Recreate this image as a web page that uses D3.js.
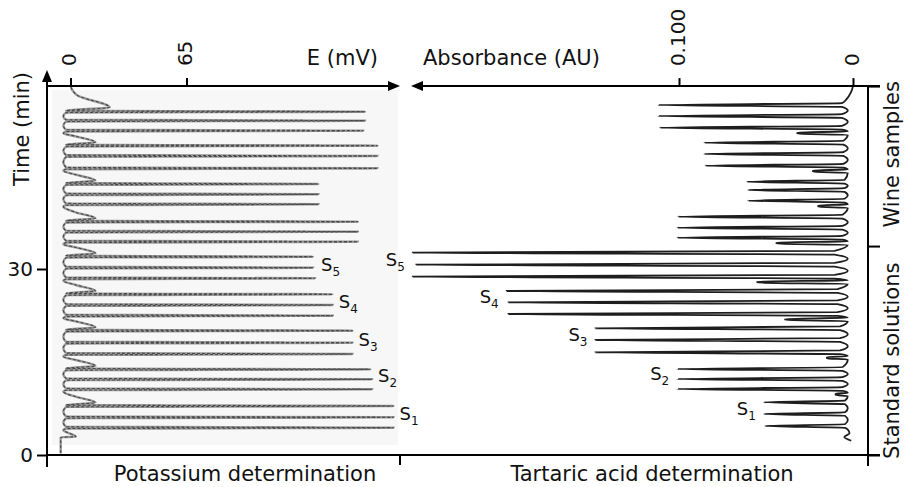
<!DOCTYPE html>
<html>
<head>
<meta charset="utf-8">
<script src="https://cdn.jsdelivr.net/npm/d3@7"></script>
<style>
  body { margin: 0; background: #fff; }
  svg { font-family: "DejaVu Sans", Verdana, sans-serif; }
</style>
</head>
<body>
<div id="canvas"></div>
<script>
"use strict"

/* groups of three injections, earliest first */
let groups = ["S1", "S2", "S3", "S4", "S5", "W1", "W2", "W3", "W4"];

/* potassium: peak times (min) and heights (mV) */
let kTimes = [4.40, 6.08, 7.90, 10.60, 12.21, 13.82, 16.29, 18.11, 20.05,
    22.47, 24.19, 25.92, 28.50, 30.21, 31.98, 34.40, 36.02, 37.63,
    40.44, 42.05, 43.71, 46.24, 48.23, 49.89, 52.31, 53.92, 55.37];
let kHeights = [181, 181, 181, 169, 169, 168, 158, 158, 158,
    147, 147, 147, 137, 136, 136, 161, 161, 161,
    139, 139, 139, 172, 172, 172, 164, 165, 165];

/* tartaric acid: peak times (min) and absorbance (AU) */
let taTimes = [4.68, 6.61, 8.50, 10.65, 12.26, 13.87, 16.56, 18.55, 20.44,
    22.74, 24.63, 26.45, 28.76, 30.69, 32.63, 35.05, 36.66, 38.44,
    41.02, 42.74, 44.08, 46.66, 48.55, 50.37, 52.79, 54.68, 56.45];
let taHeights = [0.0506, 0.0512, 0.0512, 0.101, 0.101, 0.101, 0.148, 0.148, 0.148,
    0.198, 0.198, 0.199, 0.253, 0.251, 0.253, 0.101, 0.101, 0.1005,
    0.0603, 0.0603, 0.061, 0.0850, 0.0856, 0.0856, 0.111, 0.112, 0.112];
/* small sample-change bump before each group (AU) */
let taShoulder = [0, 0.010, 0.015, 0.039, 0.055, 0.044, 0.020, 0.023, 0.032];

let eTicks = [0, 65];
let aTicks = [0.1, 0];
let timeTicks = [0, 30];
let sectionTicks = [0, 33.7, 59.5];

let drawing = d3.select("#canvas")
    .append("svg")
    .attr("width", 904)
    .attr("height", 487);

let yScale = d3.scaleLinear().domain([0, 60]).range([455, 83]);
let eScale = d3.scaleLinear().domain([0, 65]).range([70.5, 186.5]);
let aScale = d3.scaleLinear().domain([0, 0.1]).range([853, 679]);

let xLeft = 47, xRight = 868, xMid = 400, xFar = 880;
let yTop = yScale(59.5), yBottom = yScale(0);

/* faint paper tone behind the potassium recording */
drawing.append("rect")
    .attr("x", xLeft + 5).attr("y", yTop + 4)
    .attr("width", xMid - xLeft - 7).attr("height", yBottom - yTop - 14)
    .attr("fill", "#f7f7f7");

/* ---- potassium trace ---- */
let kPts = [[0.3, -5.5], [2.85, -5.5], [2.95, 3], [3.8, -3]];
kTimes.forEach(function (t, i) {
    let e = kHeights[i];
    let pos = i % 3;
    if (pos === 0) kPts.push([t - 0.4, -4]);
    kPts.push([t - 0.15, -2.5], [t, e], [t + 0.15, -2.5]);
    if (pos < 2) kPts.push([(t + kTimes[i + 1]) / 2, -4]);
    else if (i < kTimes.length - 1) kPts.push([t + 0.55, 14], [t + 1.5, 3]);
    else kPts.push([t + 0.7, 22], [t + 2.6, 4], [59.5, 0]);
});

let kLine = d3.line()
    .x(d => eScale(d[1]))
    .y(d => yScale(d[0]))
    .curve(d3.curveMonotoneY);

drawing.append("path")
    .attr("d", kLine(kPts))
    .attr("fill", "none")
    .attr("stroke", "#9a9a9a")
    .attr("stroke-width", 2.4);

drawing.append("path")
    .attr("d", kLine(kPts))
    .attr("fill", "none")
    .attr("stroke", "#4a4a4a")
    .attr("stroke-width", 1.1)
    .attr("stroke-dasharray", "3 2");

/* ---- tartaric acid trace ---- */
let base = 0.003;
let taPts = [[2.3, 0.001], [2.9, 0.005], [3.5, 0.002]];
taTimes.forEach(function (t, i) {
    let a = taHeights[i];
    let pos = i % 3;
    if (pos === 0) {
        let s = taShoulder[Math.floor(i / 3)];
        if (s > 0) taPts.push([t - 1.15, base], [t - 0.98, s], [t - 0.78, s]);
        taPts.push([t - 0.6, base]);
    }
    taPts.push([t - 0.3, base + 0.03 * a], [t, a], [t + 0.3, base + 0.03 * a]);
    if (pos < 2) taPts.push([(t + taTimes[i + 1]) / 2, base]);
    else if (i === taTimes.length - 1) taPts.push([57.3, 0.004], [58.6, 0.001], [59.5, 0]);
});

let taLine = d3.line()
    .x(d => aScale(d[1]))
    .y(d => yScale(d[0]))
    .curve(d3.curveMonotoneY);

drawing.append("path")
    .attr("d", taLine(taPts))
    .attr("fill", "none")
    .attr("stroke", "#1e1e1e")
    .attr("stroke-width", 1.8);

/* ---- frame and arrows ---- */
function seg(x1, y1, x2, y2) {
    drawing.append("line")
        .attr("x1", x1).attr("y1", y1).attr("x2", x2).attr("y2", y2)
        .attr("stroke", "black").attr("stroke-width", 2);
}
function arrow(points) {
    drawing.append("polygon").attr("points", points).attr("fill", "black");
}

seg(xLeft, yBottom + 12, xLeft, 80);
arrow(`${xLeft},70 ${xLeft - 5},82 ${xLeft + 5},82`);
seg(xLeft, yBottom, xFar, yBottom);
seg(xMid, yBottom, xMid, yBottom + 10);
seg(xLeft, yTop, xMid - 10, yTop);
arrow(`${xMid},${yTop} ${xMid - 12},${yTop - 5} ${xMid - 12},${yTop + 5}`);
seg(xMid + 21, yTop, xFar, yTop);
arrow(`${xMid + 11},${yTop} ${xMid + 23},${yTop - 5} ${xMid + 23},${yTop + 5}`);
seg(xRight, yTop, xRight, yBottom + 11);

/* ---- axes ---- */
function styleAxis(g) {
    g.select(".domain").remove();
    g.attr("font-family", null).attr("font-size", 20);
    g.selectAll(".tick line").attr("stroke", "black").attr("stroke-width", 2);
    g.selectAll(".tick text").attr("fill", "#111");
}

let eAxis = drawing.append("g")
    .attr("transform", `translate(0,${yTop})`)
    .call(d3.axisTop(eScale).tickValues(eTicks).tickSize(8).tickFormat(d3.format("d")))
    .call(styleAxis);
eAxis.selectAll(".tick text")
    .attr("x", 0).attr("y", 0).attr("dy", 0)
    .attr("text-anchor", "start")
    .attr("transform", "translate(5,-20) rotate(-90)");

let aAxis = drawing.append("g")
    .attr("transform", `translate(0,${yTop})`)
    .call(d3.axisTop(aScale).tickValues(aTicks).tickSize(8)
        .tickFormat(d => d === 0 ? "0" : d3.format(".3f")(d)))
    .call(styleAxis);
aAxis.selectAll(".tick text")
    .attr("x", 0).attr("y", 0).attr("dy", 0)
    .attr("text-anchor", "start")
    .attr("transform", "translate(5,-20) rotate(-90)");

drawing.append("g")
    .attr("transform", `translate(${xLeft},0)`)
    .call(d3.axisLeft(yScale).tickValues(timeTicks).tickSize(10).tickPadding(4))
    .call(styleAxis);

drawing.append("g")
    .attr("transform", `translate(${xRight},0)`)
    .call(d3.axisRight(yScale).tickValues(sectionTicks).tickSize(12).tickFormat(""))
    .call(styleAxis);

/* ---- titles ---- */
function label(txt, x, y, anchor, rot) {
    return drawing.append("text")
        .attr("transform", `translate(${x},${y})` + (rot ? " rotate(-90)" : ""))
        .attr("text-anchor", anchor)
        .attr("font-size", 21)
        .attr("fill", "#111")
        .text(txt);
}

label("E (mV)", 378, 65, "end", false);
label("Absorbance (AU)", 423, 65, "start", false);
label("Potassium determination", 245, 481, "middle", false);
label("Tartaric acid determination", 652, 481, "middle", false);
label("Time (min)", 29, 129, "middle", true);
label("Wine samples", 899, yScale(48.5), "middle", true);
label("Standard solutions", 899, yScale(15.2), "middle", true);

/* ---- standard labels S1..S5 ---- */
function sLabel(name, x, y, anchor) {
    let t = drawing.append("text")
        .attr("x", x).attr("y", y)
        .attr("text-anchor", anchor)
        .attr("font-size", 18)
        .attr("fill", "#111");
    t.append("tspan").text(name[0]);
    t.append("tspan").attr("font-size", 12).attr("dy", 5).text(name.slice(1));
}

groups.forEach(function (g, gi) {
    if (g[0] !== "S") return;
    let kMax = d3.max(kHeights.slice(gi * 3, gi * 3 + 3));
    let aMax = d3.max(taHeights.slice(gi * 3, gi * 3 + 3));
    sLabel(g, eScale(kMax) + 6, yScale(kTimes[gi * 3 + 1]) + 3, "start");
    sLabel(g, aScale(aMax) - 8, yScale(taTimes[gi * 3 + 1]) + 1, "end");
});
</script>
</body>
</html>
